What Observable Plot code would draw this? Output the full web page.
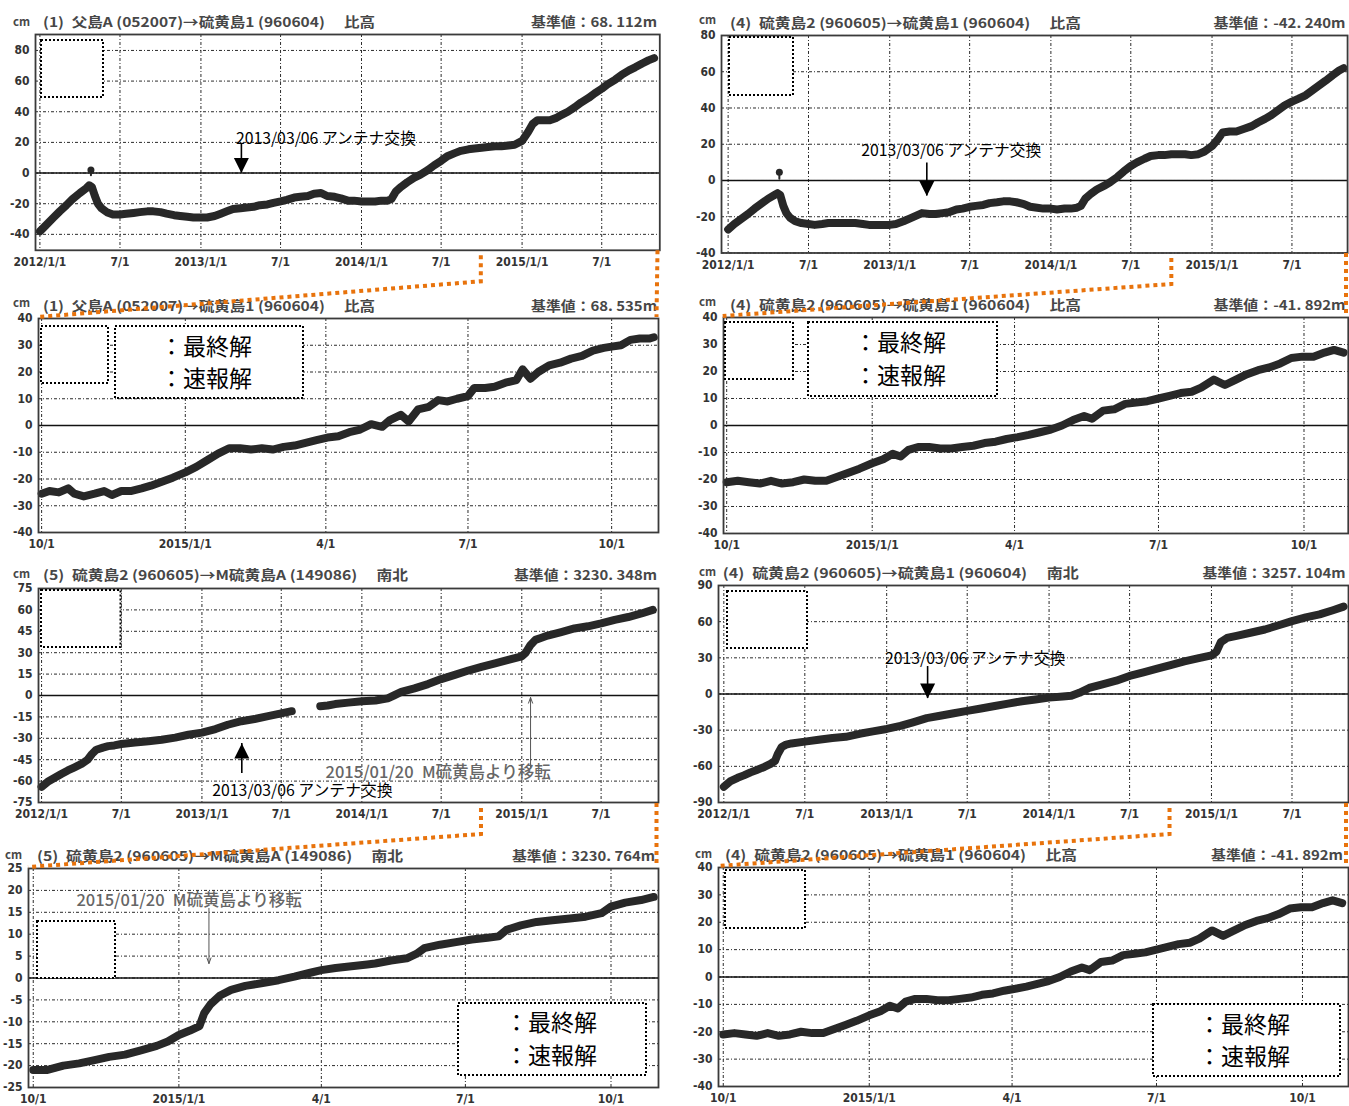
<!DOCTYPE html>
<html><head><meta charset="utf-8">
<script src="https://cdn.jsdelivr.net/npm/d3@7"></script>
<script src="https://cdn.jsdelivr.net/npm/@observablehq/plot@0.6"></script>
<style>
html,body{margin:0;padding:0;background:#fff;overflow:hidden;}
#root{position:relative;width:1349px;height:1106px;overflow:hidden;background:#fff;}
#overlay{position:absolute;left:0;top:0;pointer-events:none;}
</style></head><body><div id="root"></div><script>
// ---------------- data ----------------
const longTicks = ["2012-01-01","2012-07-01","2013-01-01","2013-07-01","2014-01-01","2014-07-01","2015-01-01","2015-07-01"];
const shortTicks = ["2014-10-01","2015-01-01","2015-04-01","2015-07-01","2015-10-01"];
const yTicksA = [-40,-20,0,20,40,60,80];
const yTicksB = [-40,-30,-20,-10,0,10,20,30,40];
const yTicksC = [-75,-60,-45,-30,-15,0,15,30,45,60,75];
const yTicksD = [-90,-60,-30,0,30,60,90];
const yTicksE = [-25,-20,-15,-10,-5,0,5,10,15,20,25];

const panelTitles = [
  "(1)\u2002父島A (052007)→硫黄島1 (960604)\u3000 比高",
  "(4)\u2002硫黄島2 (960605)→硫黄島1 (960604)\u3000 比高",
  "(1)\u2002父島A (052007)→硫黄島1 (960604)\u3000 比高",
  "(4)\u2002硫黄島2 (960605)→硫黄島1 (960604)\u3000 比高",
  "(5)\u2002硫黄島2 (960605)→M硫黄島A (149086)\u3000 南北",
  "(4)\u2002硫黄島2 (960605)→硫黄島1 (960604)\u3000 南北",
  "(5)\u2002硫黄島2 (960605)→M硫黄島A (149086)\u3000 南北",
  "(4)\u2002硫黄島2 (960605)→硫黄島1 (960604)\u3000 比高"
];
const baseLabels = ["基準値：68. 112m","基準値：-42. 240m","基準値：68. 535m","基準値：-41. 892m",
  "基準値：3230. 348m","基準値：3257. 104m","基準値：3230. 764m","基準値：-41. 892m"];
const unitLabel = "cm";
const legendLabels = ["：最終解","：速報解"];
const antennaText = "2013/03/06 アンテナ交換";
const moveText = "2015/01/20\u2002M硫黄島より移転";

const p1Dates = ["2012-01-01","2012-01-15","2012-02-01","2012-02-15","2012-03-01","2012-03-15","2012-04-01","2012-04-15","2012-04-22","2012-04-28","2012-05-05","2012-05-12","2012-05-20","2012-06-01","2012-06-15","2012-07-01","2012-07-15","2012-08-01","2012-08-15","2012-09-01","2012-09-15","2012-10-01","2012-10-15","2012-11-01","2012-11-15","2012-12-01","2012-12-15","2013-01-01","2013-01-15","2013-02-01","2013-02-15","2013-03-01","2013-03-15","2013-04-01","2013-04-15","2013-05-01","2013-05-15","2013-06-01","2013-06-15","2013-07-01","2013-07-15","2013-08-01","2013-08-15","2013-09-01","2013-09-15","2013-10-01","2013-10-15","2013-11-01","2013-11-15","2013-12-01","2013-12-15","2014-01-01","2014-01-15","2014-02-01","2014-02-15","2014-03-01","2014-03-10","2014-03-20","2014-04-01","2014-04-15","2014-05-01","2014-05-15","2014-06-01","2014-06-15","2014-07-01","2014-07-15","2014-08-01","2014-08-15","2014-09-01","2014-09-15","2014-10-01","2014-10-15","2014-11-01","2014-11-15","2014-12-01","2014-12-15","2015-01-01","2015-01-15","2015-01-25","2015-02-05","2015-02-20","2015-03-05","2015-03-20","2015-04-01","2015-04-15","2015-05-01","2015-05-15","2015-06-01","2015-06-15","2015-07-01","2015-07-15","2015-08-01","2015-08-15","2015-09-01","2015-09-15","2015-10-01","2015-10-15","2015-10-28"];
const p1Values = [-38,-34,-29,-25,-21,-17,-13,-10,-8,-9,-15,-20,-23,-25.5,-27,-27,-26.5,-26,-25.5,-25,-25,-25.5,-26.5,-27.5,-28,-28.5,-29,-29,-29,-28,-26.5,-25,-23.5,-23,-22.5,-22,-21,-20.5,-19.5,-18.5,-17.5,-16,-15.5,-15,-13.5,-13,-15,-15.5,-16.5,-18,-18,-18.5,-18.5,-18.5,-18,-18,-17,-12,-9,-6,-3,-1,2,5,8,11,13,14.5,15.5,16,16.5,17,17.5,17.5,18,18.5,21,27,32,34.5,34.5,34.5,36,38,40,43,46,49,52,55,58,61,64,67,69,71.5,73.5,75];
const p1SpikeDates = ["2012-04-26","2012-04-26"];
const p1SpikeValues = [2,-1.5];

const p2Dates = ["2012-01-01","2012-01-15","2012-02-01","2012-02-15","2012-03-01","2012-03-15","2012-04-01","2012-04-15","2012-04-22","2012-04-28","2012-05-05","2012-05-12","2012-05-20","2012-06-01","2012-06-15","2012-07-01","2012-07-15","2012-08-01","2012-08-15","2012-09-01","2012-09-15","2012-10-01","2012-10-15","2012-11-01","2012-11-15","2012-12-01","2012-12-15","2013-01-01","2013-01-15","2013-02-01","2013-02-15","2013-03-01","2013-03-15","2013-04-01","2013-04-15","2013-05-01","2013-05-15","2013-06-01","2013-06-15","2013-07-01","2013-07-15","2013-08-01","2013-08-15","2013-09-01","2013-09-15","2013-10-01","2013-10-15","2013-11-01","2013-11-15","2013-12-01","2013-12-15","2014-01-01","2014-01-15","2014-02-01","2014-02-15","2014-03-01","2014-03-10","2014-03-20","2014-04-01","2014-04-15","2014-05-01","2014-05-15","2014-06-01","2014-06-15","2014-07-01","2014-07-15","2014-08-01","2014-08-15","2014-09-01","2014-09-15","2014-10-01","2014-10-15","2014-11-01","2014-11-15","2014-12-01","2014-12-15","2015-01-01","2015-01-15","2015-01-25","2015-02-10","2015-02-25","2015-03-15","2015-04-01","2015-04-15","2015-05-01","2015-05-15","2015-06-01","2015-06-15","2015-07-01","2015-07-15","2015-08-01","2015-08-15","2015-09-01","2015-09-15","2015-10-01","2015-10-15","2015-10-26"];
const p2Values = [-27,-24,-21,-18.5,-15.5,-13,-10,-8,-7,-8,-14,-18,-20.5,-22.5,-23.5,-24,-24.5,-24,-23.5,-23.5,-23.5,-23.5,-23.5,-24,-24.5,-24.5,-24.5,-24.5,-24,-22.5,-21,-19.5,-18,-18.5,-18.5,-18,-17.5,-16,-15.5,-14.5,-14,-13.5,-12.5,-12,-11.5,-11.5,-12,-13,-14.5,-15,-15.5,-15.5,-16,-15.5,-15.5,-15,-14,-10,-7.5,-5,-3,-1,2,5,8,10,12,13.5,14,14,14.5,14.5,14.5,14,14.5,16,19,23,26.5,27,27,28.5,30,32,34,36,39,41.5,43.5,45,47,49.5,52.5,55,58,60.5,62];
const p2SpikeDates = ["2012-04-26","2012-04-26"];
const p2SpikeValues = [4.5,1];

const p3Dates = ["2014-10-01","2014-10-06","2014-10-12","2014-10-18","2014-10-22","2014-10-28","2014-11-04","2014-11-10","2014-11-15","2014-11-21","2014-11-27","2014-12-04","2014-12-10","2014-12-17","2014-12-24","2015-01-01","2015-01-08","2015-01-15","2015-01-22","2015-01-29","2015-02-05","2015-02-12","2015-02-19","2015-02-26","2015-03-05","2015-03-12","2015-03-19","2015-03-26","2015-04-02","2015-04-09","2015-04-16","2015-04-23","2015-04-30","2015-05-07","2015-05-12","2015-05-19","2015-05-24","2015-05-30","2015-06-06","2015-06-12","2015-06-18","2015-06-24","2015-07-01","2015-07-05","2015-07-12","2015-07-18","2015-07-25","2015-08-01","2015-08-05","2015-08-10","2015-08-15","2015-08-22","2015-08-29","2015-09-05","2015-09-12","2015-09-19","2015-09-26","2015-10-01","2015-10-07","2015-10-13","2015-10-19","2015-10-25","2015-10-28"];
const p3Values = [-25.5,-24.5,-25,-23.5,-25.5,-26.5,-25.5,-24.5,-26,-24.5,-24.5,-23.5,-22.5,-21,-19.5,-17.5,-15.5,-13,-10.5,-8.5,-8.5,-9,-8.5,-9,-8,-7.5,-6.5,-5.5,-4.5,-4,-2.5,-1.5,0.5,-0.5,2,4,1.5,6,7,9.5,9,10,11,14,14,14.5,16,17,21,17.5,20,22.5,23.5,25,26,28,29,29.5,30,32,32.5,32.5,33];

const p4Dates = ["2014-10-01","2014-10-08","2014-10-15","2014-10-22","2014-10-29","2014-11-05","2014-11-12","2014-11-19","2014-11-26","2014-12-03","2014-12-10","2014-12-17","2014-12-24","2015-01-01","2015-01-08","2015-01-14","2015-01-19","2015-01-24","2015-01-30","2015-02-06","2015-02-13","2015-02-20","2015-02-27","2015-03-06","2015-03-13","2015-03-20","2015-03-27","2015-04-03","2015-04-10","2015-04-17","2015-04-24","2015-05-01","2015-05-08","2015-05-15","2015-05-20","2015-05-27","2015-06-03","2015-06-10","2015-06-17","2015-06-24","2015-07-01","2015-07-08","2015-07-15","2015-07-22","2015-07-28","2015-08-05","2015-08-12","2015-08-19","2015-08-26","2015-09-02","2015-09-09","2015-09-16","2015-09-23","2015-09-30","2015-10-07","2015-10-14","2015-10-20","2015-10-26"];
const p4Values = [-21,-20.5,-21,-21.5,-20.5,-21.5,-21,-20,-20.5,-20.5,-19,-17.5,-16,-14,-12.5,-10.5,-11.5,-9,-8,-8,-8.5,-8.5,-8,-7.5,-6.5,-6,-5,-4.3,-3.5,-2.5,-1.5,0,2,3.5,2.5,5.5,6,8,8.5,9,10,11,12,12.5,14,17,15,17,19,20.5,21.5,23,25,25.5,25.5,27,28,27];

const p5Dates = ["2012-01-01","2012-01-15","2012-02-01","2012-02-15","2012-03-01","2012-03-15","2012-04-01","2012-04-15","2012-04-25","2012-05-05","2012-05-20","2012-06-01","2012-06-15","2012-07-01","2012-08-01","2012-09-01","2012-10-01","2012-11-01","2012-12-01","2013-01-01","2013-02-01","2013-03-01","2013-04-01","2013-05-01","2013-06-01","2013-07-01","2013-07-25","2013-08-20","2013-09-28","2013-10-15","2013-11-01","2013-12-01","2014-01-01","2014-02-01","2014-03-01","2014-03-15","2014-04-01","2014-05-01","2014-06-01","2014-07-01","2014-08-01","2014-09-01","2014-10-01","2014-11-01","2014-12-01","2015-01-01","2015-01-10","2015-01-20","2015-02-01","2015-02-15","2015-03-01","2015-04-01","2015-05-01","2015-06-01","2015-07-01","2015-08-01","2015-09-01","2015-10-01","2015-10-27"];
const p5Values = [-64,-60.5,-57.5,-55,-52.5,-50.5,-48,-45,-41,-38,-36.5,-35.5,-35,-34,-33,-32,-31,-29.5,-27.5,-26,-23.5,-20.5,-18,-16.5,-14.5,-12.5,-11,null,-7.5,-7,-6,-5,-4,-3.5,-2,0,2.5,5,8,11.5,14.5,17.5,20,22.5,25,27.5,30,35,39,40.5,42,44.5,47,48.5,50.5,53,55,57.5,60];

const p6Dates = ["2012-01-01","2012-01-15","2012-02-01","2012-02-15","2012-03-01","2012-03-15","2012-04-01","2012-04-15","2012-04-25","2012-05-01","2012-05-10","2012-05-20","2012-06-01","2012-07-01","2012-08-01","2012-09-01","2012-10-01","2012-11-01","2012-12-01","2013-01-01","2013-02-01","2013-03-01","2013-04-01","2013-05-01","2013-06-01","2013-07-01","2013-08-01","2013-09-01","2013-10-01","2013-11-01","2013-12-01","2014-01-01","2014-02-01","2014-02-20","2014-03-10","2014-04-01","2014-05-01","2014-06-01","2014-07-01","2014-08-01","2014-09-01","2014-10-01","2014-11-01","2014-12-01","2015-01-01","2015-01-12","2015-01-22","2015-02-05","2015-03-01","2015-04-01","2015-05-01","2015-06-01","2015-07-01","2015-08-01","2015-09-01","2015-10-01","2015-10-25"];
const p6Values = [-77,-72.5,-69.5,-67.5,-65,-63,-60.5,-58,-55.5,-50,-44,-42,-41,-39.5,-38,-36.5,-35.5,-33,-31,-29,-26.5,-23.5,-20,-18,-16,-14,-12,-10,-8,-6,-4.5,-3,-2,-1.5,1,5,8,11,15,18,21,24,27,29.5,32,35,43,46.5,48.5,51,53.5,57,60.5,63.5,66,69.5,72.5];

const p7Dates = ["2014-10-01","2014-10-10","2014-10-20","2014-10-30","2014-11-08","2014-11-18","2014-11-28","2014-12-08","2014-12-18","2014-12-25","2015-01-01","2015-01-08","2015-01-14","2015-01-17","2015-01-21","2015-01-27","2015-02-03","2015-02-12","2015-02-22","2015-03-05","2015-03-15","2015-03-25","2015-04-01","2015-04-10","2015-04-20","2015-04-30","2015-05-05","2015-05-15","2015-05-25","2015-05-31","2015-06-05","2015-06-15","2015-06-25","2015-07-05","2015-07-15","2015-07-22","2015-07-27","2015-08-05","2015-08-15","2015-08-25","2015-09-05","2015-09-15","2015-09-25","2015-10-01","2015-10-10","2015-10-20","2015-10-28"];
const p7Values = [-21,-21,-20,-19.5,-18.8,-18,-17.5,-16.5,-15.5,-14.5,-13,-12,-11,-8,-6,-4,-2.7,-1.8,-1.2,-0.5,0.3,1.2,1.8,2.3,2.7,3.1,3.3,4,4.5,5.5,6.8,7.6,8.2,8.8,9.2,9.5,11,12,12.8,13.2,13.6,14,14.8,16.3,17.2,17.8,18.5];

// P8 shows the same series as P4
const p8Dates = p4Dates;
const p8Values = p4Values;

// ---------------- layout / drawing ----------------
const FONT_CJK = "'Noto Sans CJK JP','Noto Sans',sans-serif";
const FONT_TICK = "'DejaVu Sans Condensed','Liberation Sans Narrow','DejaVu Sans',sans-serif";
const toDate = s => new Date(s + "T00:00:00Z");
const table = (ds, vs) => ds.map((d, i) => ({date: toDate(d), value: vs[i]}));
const fmtDate = d => (d.getUTCMonth() === 0 ? `${d.getUTCFullYear()}/1/1` : `${d.getUTCMonth() + 1}/1`);

const triDown = {draw(ctx, size) { const r = Math.sqrt(size / Math.PI); ctx.moveTo(0, 0); ctx.lineTo(-r, -2 * r); ctx.lineTo(r, -2 * r); ctx.closePath(); }};
const triUp = {draw(ctx, size) { const r = Math.sqrt(size / Math.PI); ctx.moveTo(0, 0); ctx.lineTo(-r, 2 * r); ctx.lineTo(r, 2 * r); ctx.closePath(); }};

const panels = [
  {left: 34.7, top: 33.5, right: 659, bottom: 249.3, xd: ["2011-12-22","2015-11-10"], yd: [-50.4, 90.4], yt: yTicksA, xt: longTicks,
   data: table(p1Dates, p1Values), spike: table(p1SpikeDates, p1SpikeValues),
   head: {cm: 13, y: 26.5, cmY: 26, tx: 43, tw: 332, rx: 657, rw: 126},
   boxes: [[41, 40, 62, 57]],
   annos: [{kind: "down", date: "2013-04-03", yTop: 18.8, yTip: 0, yText: 22, dx: -5.5, text: antennaText}]},
  {left: 721.4, top: 34.5, right: 1347.5, bottom: 252, xd: ["2011-12-17","2015-11-04"], yd: [-40, 80], yt: yTicksA, xt: longTicks,
   data: table(p2Dates, p2Values), spike: table(p2SpikeDates, p2SpikeValues),
   head: {cm: 699, y: 27.5, cmY: 24, tx: 730, tw: 351, rx: 1345.5, rw: 132},
   boxes: [[729, 37, 64, 58]],
   annos: [{kind: "down", date: "2013-03-26", yTop: 9.7, yTip: -8.6, yText: 16.3, dx: -65.6, text: antennaText}]},
  {left: 38, top: 318, right: 658, bottom: 532, xd: ["2014-09-29","2015-10-31"], yd: [-40, 40], yt: yTicksB, xt: shortTicks,
   data: table(p3Dates, p3Values),
   head: {cm: 13, y: 311, cmY: 307, tx: 43, tw: 332, rx: 657, rw: 126},
   boxes: [[41, 326, 67, 57], [115, 326, 188, 72]], legend: {x: 160, y1: 355, y2: 387}, annos: []},
  {left: 722.7, top: 317, right: 1347.5, bottom: 533, xd: ["2014-09-29","2015-10-29"], yd: [-40, 40], yt: yTicksB, xt: shortTicks,
   data: table(p4Dates, p4Values),
   head: {cm: 699, y: 310, cmY: 306, tx: 730, tw: 351, rx: 1345.5, rw: 132},
   boxes: [[725, 322, 68, 57], [808, 322, 189, 74]], legend: {x: 854, y1: 351, y2: 384}, annos: []},
  {left: 38, top: 588, right: 658, bottom: 802, xd: ["2011-12-25","2015-11-09"], yd: [-75, 75], yt: yTicksC, xt: longTicks,
   data: table(p5Dates, p5Values),
   head: {cm: 13, y: 580, cmY: 578, tx: 43, tw: 365, rx: 657, rw: 143},
   boxes: [[41, 590, 79.5, 57]],
   annos: [{kind: "up", date: "2013-04-02", yTop: -54.7, yTip: -33.6, yText: -66.6, dx: -29.5, text: antennaText},
           {kind: "thin", date: "2015-01-21", yTop: -51.2, yTip: -1.4, yText: -54, dx: -205, text: moveText}]},
  {left: 717.5, top: 585, right: 1347.5, bottom: 802, xd: ["2011-12-20","2015-11-05"], yd: [-90, 90], yt: yTicksD, xt: longTicks,
   data: table(p6Dates, p6Values),
   head: {cm: 699, y: 578, cmY: 576, tx: 722.7, tw: 356, rx: 1345.5, rw: 143},
   boxes: [[727, 591, 80, 57]],
   annos: [{kind: "down", date: "2013-04-03", yTop: 22.8, yTip: -3.7, yText: 29.4, dx: -42.6, text: antennaText}]},
  {left: 28, top: 868, right: 658, bottom: 1087, xd: ["2014-09-28","2015-10-31"], yd: [-25, 25], yt: yTicksE, xt: shortTicks,
   data: table(p7Dates, p7Values),
   head: {cm: 5, y: 861, cmY: 859, tx: 37, tw: 366, rx: 655, rw: 143},
   boxes: [[37, 921, 78, 57], [458, 1003, 188, 72]], legend: {x: 505, y1: 1031, y2: 1064},
   annos: [{kind: "thin", date: "2015-01-20", yTop: 15.9, yTip: 3.3, yText: 17.7, dx: -132.5, text: moveText}]},
  {left: 717.5, top: 867, right: 1347.5, bottom: 1086, xd: ["2014-09-28","2015-10-30"], yd: [-40, 40], yt: yTicksB, xt: shortTicks,
   data: table(p8Dates, p8Values),
   head: {cm: 695, y: 860, cmY: 858, tx: 725, tw: 352, rx: 1343, rw: 132},
   boxes: [[725, 870, 80, 58], [1153, 1004, 187, 72]], legend: {x: 1198, y1: 1033, y2: 1065}, annos: []}
];

const root = document.getElementById("root");
const mL = 40, mR = 4, mT = 8, mB = 26;
const gridStyle = {stroke: "#2b2b2b", strokeOpacity: 1, strokeWidth: 1, strokeDasharray: "3,2,1,2"};

panels.forEach((p, i) => {
  const xt = p.xt.map(toDate);
  const annoMarks = [];
  p.annos.forEach(a => {
    const row = [{date: toDate(a.date), yTop: a.yTop, yTip: a.yTip, yText: a.yText, label: a.text}];
    if (a.kind === "thin") {
      annoMarks.push(Plot.arrow(row, {x1: "date", x2: "date", y1: "yTop", y2: "yTip", stroke: "#555", strokeWidth: 1, headLength: 9, headAngle: 40}));
      annoMarks.push(Plot.text(row, {x: "date", y: "yText", text: "label", dx: a.dx, textAnchor: "start", fontSize: 16.5, fontFamily: FONT_CJK, fontWeight: 500, fill: "#666"}));
    } else {
      annoMarks.push(Plot.ruleX(row, {x: "date", y1: "yTop", y2: "yTip", stroke: "#000", strokeWidth: 1.6}));
      annoMarks.push(Plot.dot(row, {x: "date", y: "yTip", r: 7.5, symbol: a.kind === "down" ? triDown : triUp, fill: "#000", stroke: "none"}));
      annoMarks.push(Plot.text(row, {x: "date", y: "yText", text: "label", dx: a.dx, textAnchor: "start", fontSize: 15.8, fontFamily: FONT_CJK, fontWeight: "normal", fill: "#000"}));
    }
  });
  const spikeMarks = p.spike ? [
    Plot.line(p.spike, {x: "date", y: "value", stroke: "#272727", strokeWidth: 2}),
    Plot.dot(p.spike.slice(0, 1), {x: "date", y: "value", r: 3.5, fill: "#272727", stroke: "none"})
  ] : [];
  const chart = Plot.plot({
    width: p.right - p.left + mL + mR,
    height: p.bottom - p.top + mT + mB,
    marginLeft: mL, marginRight: mR, marginTop: mT, marginBottom: mB,
    style: {background: "transparent", fontFamily: FONT_TICK, fontSize: "12px", fontWeight: "bold", color: "#333",
            overflow: "visible", position: "absolute", left: (p.left - mL) + "px", top: (p.top - mT) + "px", maxWidth: "none"},
    x: {type: "utc", domain: p.xd.map(toDate), label: null},
    y: {domain: p.yd, label: null},
    marks: [
      Plot.gridY(p.yt, gridStyle),
      Plot.gridX(xt, gridStyle),
      Plot.ruleY([0], {stroke: "#111", strokeWidth: 1.6}),
      ...spikeMarks,
      Plot.line(p.data, {x: "date", y: "value", stroke: "#282828", strokeWidth: 8, strokeLinejoin: "round", strokeLinecap: "round"}),
      ...annoMarks,
      Plot.frame({stroke: "#3a3a3a", strokeWidth: 1.8}),
      Plot.axisX(xt, {tickSize: 0, tickPadding: 7, tickFormat: fmtDate, label: null}),
      Plot.axisY(p.yt, {tickSize: 0, tickPadding: 6, tickFormat: d => String(d), label: null})
    ]
  });
  root.appendChild(chart);
  p.chart = chart;
});

// ---------------- overlay: headers, legends, zoom connectors ----------------
const ov = d3.select(root).append("svg").attr("id", "overlay").attr("width", 1349).attr("height", 1106);
panels.forEach((p, i) => {
  const h = p.head;
  const g = ov.append("g").attr("font-family", FONT_CJK).attr("font-weight", 700).attr("fill", "#474747").attr("font-size", 13.5);
  g.append("text").attr("x", h.cm).attr("y", h.cmY).attr("font-size", 11.5).text(unitLabel);
  g.append("text").attr("x", h.tx).attr("y", h.y).attr("textLength", h.tw).attr("lengthAdjust", "spacingAndGlyphs").text(panelTitles[i]);
  g.append("text").attr("x", h.rx - h.rw).attr("y", h.y).attr("textLength", h.rw).attr("lengthAdjust", "spacingAndGlyphs").text(baseLabels[i]);
  p.boxes.forEach(b => {
    ov.append("rect").attr("x", b[0]).attr("y", b[1]).attr("width", b[2]).attr("height", b[3])
      .attr("fill", "#fff").attr("stroke", "#000").attr("stroke-width", 2).attr("stroke-dasharray", "2,2");
  });
  if (p.legend) {
    [p.legend.y1, p.legend.y2].forEach((y, k) => {
      ov.append("text").attr("x", p.legend.x).attr("y", y).attr("font-family", FONT_CJK).attr("font-size", 23)
        .attr("fill", "#000").text(legendLabels[k]);
    });
  }
});

const zoomStart = toDate("2014-10-01");
[[0, 2], [1, 3], [4, 6], [5, 7]].forEach(([a, b]) => {
  const A = panels[a], B = panels[b];
  const xs = (A.left - mL) + A.chart.scale("x").apply(zoomStart);
  const path = d3.path();
  path.moveTo(xs, A.bottom + 6); path.lineTo(xs, A.bottom + 32); path.lineTo(B.left, B.top - 1);
  path.moveTo(A.right - 1.5, A.bottom + 1); path.lineTo(B.right - 1.5, B.top - 1);
  ov.append("path").attr("d", path.toString()).attr("fill", "none").attr("stroke", "#e8730c")
    .attr("stroke-width", 4).attr("stroke-dasharray", "4,4");
});
</script></body></html>
